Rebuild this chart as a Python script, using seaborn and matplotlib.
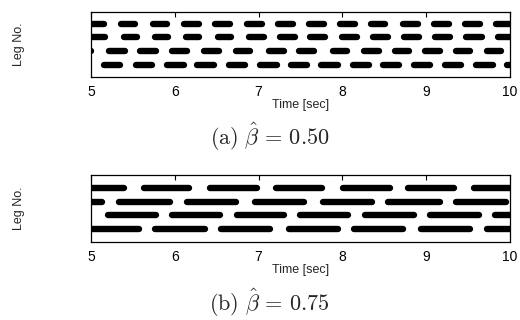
import pandas as pd
import numpy as np
import matplotlib
matplotlib.use("Agg")
import matplotlib.pyplot as plt
import seaborn as sns

# stance intervals [sec] per leg (leg 1 = top row)
a_leg1_on  = [4.95, 5.36, 5.74, 6.11, 6.48, 6.86, 7.23, 7.60, 7.97, 8.34, 8.72, 9.09, 9.46, 9.83]
a_leg1_off = [5.16, 5.53, 5.91, 6.29, 6.66, 7.04, 7.41, 7.78, 8.15, 8.51, 8.90, 9.27, 9.64, 10.05]
a_leg2_on  = [4.95, 5.39, 5.76, 6.13, 6.51, 6.89, 7.26, 7.61, 7.99, 8.36, 8.74, 9.11, 9.48, 9.86]
a_leg2_off = [5.17, 5.55, 5.92, 6.29, 6.67, 7.07, 7.44, 7.79, 8.17, 8.54, 8.92, 9.28, 9.66, 10.05]
a_leg3_on  = [4.90, 5.22, 5.59, 5.97, 6.35, 6.73, 7.13, 7.48, 7.89, 8.26, 8.63, 8.99, 9.36, 9.72]
a_leg3_off = [5.00, 5.40, 5.77, 6.15, 6.53, 6.90, 7.30, 7.66, 8.05, 8.44, 8.80, 9.17, 9.52, 9.89]
a_leg4_on  = [5.16, 5.54, 5.91, 6.27, 6.65, 7.02, 7.39, 7.74, 8.13, 8.49, 8.85, 9.22, 9.59, 9.96]
a_leg4_off = [5.35, 5.73, 6.11, 6.47, 6.84, 7.22, 7.58, 7.95, 8.32, 8.67, 9.04, 9.42, 9.80, 10.05]

b_leg1_on  = [4.95, 5.63, 6.42, 7.21, 8.01, 8.78, 9.57]
b_leg1_off = [5.39, 6.17, 6.98, 7.76, 8.57, 9.33, 10.05]
b_leg2_on  = [4.95, 5.34, 6.14, 6.96, 7.77, 8.55, 9.36]
b_leg2_off = [5.13, 5.94, 6.73, 7.54, 8.35, 9.16, 9.95]
b_leg3_on  = [5.20, 5.97, 6.74, 7.49, 8.27, 9.04, 9.82]
b_leg3_off = [5.77, 6.54, 7.30, 8.07, 8.85, 9.63, 10.05]
b_leg4_on  = [4.95, 5.76, 6.55, 7.36, 8.14, 8.94, 9.72]
b_leg4_off = [5.57, 6.36, 7.14, 7.95, 8.72, 9.52, 10.05]

x_ticks = [5, 6, 7, 8, 9, 10]
captions = [r'$\mathrm{(a)}\ \hat{\beta}\,=\,0.50$', r'$\mathrm{(b)}\ \hat{\beta}\,=\,0.75$']


def to_long(on_lists, off_lists):
    rows = []
    for leg, (ons, offs) in enumerate(zip(on_lists, off_lists), start=1):
        for k, (t0, t1) in enumerate(zip(ons, offs)):
            rows.append({'leg': leg, 'bar': f'{leg}-{k}', 'time': t0})
            rows.append({'leg': leg, 'bar': f'{leg}-{k}', 'time': t1})
    return pd.DataFrame(rows)


df_a = to_long([a_leg1_on, a_leg2_on, a_leg3_on, a_leg4_on],
               [a_leg1_off, a_leg2_off, a_leg3_off, a_leg4_off])
df_b = to_long([b_leg1_on, b_leg2_on, b_leg3_on, b_leg4_on],
               [b_leg1_off, b_leg2_off, b_leg3_off, b_leg4_off])

sns.set_style("white")
plt.rcParams['font.family'] = ['Liberation Sans', 'DejaVu Sans']
plt.rcParams['mathtext.fontset'] = 'cm'

fig = plt.figure(figsize=(5.2, 3.2), dpi=100)
ax_a = fig.add_axes([91/520, 1-77/320, 419/520, 65.5/320])
ax_b = fig.add_axes([91/520, 1-242/320, 419/520, 67/320])

for ax, df, ylim in [(ax_a, df_a, (4.9, 0.1)), (ax_b, df_b, (5.0, 0.0))]:
    sns.lineplot(data=df, x='time', y='leg', units='bar', estimator=None,
                 color='black', lw=4.6, solid_capstyle='round', ax=ax)
    ax.set_xlim(5, 10)
    ax.set_ylim(*ylim)
    ax.set_xticks(x_ticks)
    ax.set_yticks([])
    ax.tick_params(axis='x', direction='in', top=True, length=3.5, width=0.8,
                   labelsize=10, pad=6, colors='black')
    for s in ax.spines.values():
        s.set_visible(True)
        s.set_color('black')
        s.set_linewidth(0.9)
    ax.set_xlabel('Time [sec]', fontsize=9, labelpad=0)
    ax.set_ylabel('Leg No.', fontsize=9)
    ax.yaxis.set_label_coords(-0.158, 0.5)

fig.text(0.518, 1-137/320, captions[0], fontsize=16, ha='center', va='center')
fig.text(0.518, 1-303/320, captions[1], fontsize=16, ha='center', va='center')

fig.savefig('out.png', dpi=100)
